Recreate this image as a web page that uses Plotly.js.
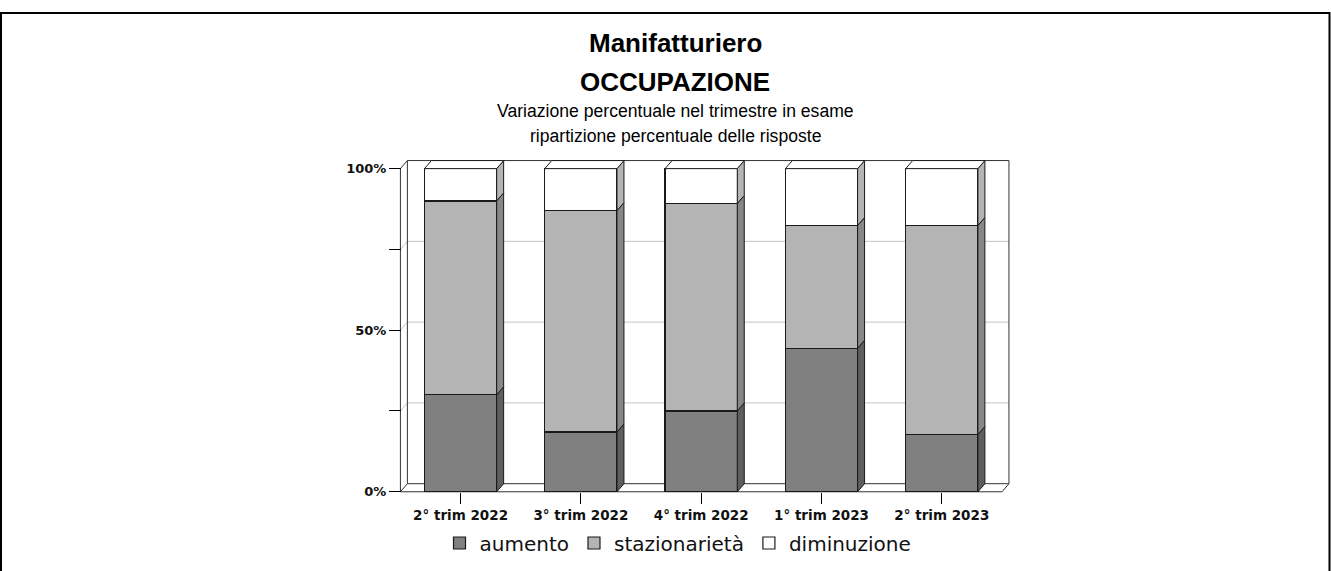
<!DOCTYPE html>
<html>
<head>
<meta charset="utf-8">
<script src="https://cdn.plot.ly/plotly-3.0.1.min.js"></script>
<style>
  html, body { margin: 0; padding: 0; background: #fff; }
  #chart { width: 1331px; height: 571px; }
</style>
</head>
<body>
<div id="chart"></div>
<script>
// ---- data ----
const categories = ['2° trim 2022', '3° trim 2022', '4° trim 2022', '1° trim 2023', '2° trim 2023'];
const aumento = [30, 18.5, 25, 44.4, 17.7];
const stazionarieta = [60, 68.5, 64.2, 38, 64.7];
const diminuzione = [10, 13.0, 10.8, 17.6, 17.6];
const seriesNames = ['aumento', 'stazionarietà', 'diminuzione'];
const yTickVals = [0, 25, 50, 75, 100];
const yTickText = ['0%', '', '50%', '', '100%'];
const titleLines = ['Manifatturiero', 'OCCUPAZIONE', 'Variazione percentuale nel trimestre in esame', 'ripartizione percentuale delle risposte'];

// ---- styling ----
const frontColors = ['#808080', '#b4b4b4', '#ffffff'];
const sideColors = ['#5e5e5e', '#878787', '#b4b4b4'];
const barWidth = 0.6;
const dx = 0.058;   // depth offset in category units
const dy = 2.5;     // depth offset in % units

// pixel layout of the plot area
const L = 398, T = 157, W = 616, H = 338;
const R = 1331 - L - W, B = 571 - T - H;
const px2x = px => (px - L) / W;
const py2y = py => (T + H - py) / H;

const xIdx = categories.map((_, i) => i);
const values = [aumento, stazionarieta, diminuzione];

const traces = values.map((vals, s) => ({
  type: 'bar',
  name: seriesNames[s],
  x: xIdx,
  y: vals,
  width: barWidth,
  marker: { color: frontColors[s], line: { color: '#1a1a1a', width: 1.2 } },
  hoverinfo: 'skip'
}));

const shapes = [];
const lineCol = '#333333';
// back wall gridlines
[25, 50, 75].forEach(v => {
  shapes.push({ type: 'path', layer: 'below', xref: 'x', yref: 'y',
    path: `M -0.5,${v} L ${-0.5 + dx},${v + dy} L ${4.5 + dx},${v + dy}`,
    line: { color: '#c4c4c4', width: 1 } });
});
// walls & floor outlines
const wallPaths = [
  `M -0.5,0 L -0.5,100 L ${-0.5 + dx},${100 + dy} L ${-0.5 + dx},${dy} Z`,
  `M ${-0.5 + dx},${100 + dy} L ${4.5 + dx},${100 + dy} L ${4.5 + dx},${dy}`,
  `M -0.5,0 L 4.5,0 L ${4.5 + dx},${dy} L ${-0.5 + dx},${dy}`
];
wallPaths.forEach(p => shapes.push({ type: 'path', layer: 'below', xref: 'x', yref: 'y',
  path: p, line: { color: lineCol, width: 1 } }));

// 3D side faces and top faces computed from data
xIdx.forEach(i => {
  const xl = i - barWidth / 2, xr = i + barWidth / 2;
  let base = 0;
  values.forEach((vals, s) => {
    const top = base + vals[i];
    shapes.push({ type: 'path', layer: 'above', xref: 'x', yref: 'y',
      path: `M ${xr},${base} L ${xr + dx},${base + dy} L ${xr + dx},${top + dy} L ${xr},${top} Z`,
      fillcolor: sideColors[s], line: { color: '#1a1a1a', width: 1 } });
    base = top;
  });
  shapes.push({ type: 'path', layer: 'above', xref: 'x', yref: 'y',
    path: `M ${xl},${base} L ${xl + dx},${base + dy} L ${xr + dx},${base + dy} L ${xr},${base} Z`,
    fillcolor: '#ffffff', line: { color: '#1a1a1a', width: 1 } });
});

// outer frame
shapes.push({ type: 'rect', xref: 'paper', yref: 'paper', layer: 'above',
  x0: px2x(1), x1: px2x(1329.5), y0: py2y(620), y1: py2y(13),
  line: { color: '#000', width: 2 }, fillcolor: 'rgba(0,0,0,0)' });

const titleCenter = px2x(675);
const annotations = [
  { text: '<b>' + titleLines[0] + '</b>', y: py2y(43), size: 26, family: 'Liberation Sans, Arial, sans-serif' },
  { text: '<b>' + titleLines[1] + '</b>', y: py2y(82), size: 26, family: 'Liberation Sans, Arial, sans-serif' },
  { text: titleLines[2], y: py2y(111), size: 17.6, family: 'Liberation Sans, Arial, sans-serif' },
  { text: titleLines[3], y: py2y(136), size: 17.6, family: 'Liberation Sans, Arial, sans-serif' }
].map(a => ({ text: a.text, xref: 'paper', yref: 'paper', x: titleCenter, y: a.y,
  xanchor: 'center', yanchor: 'middle', showarrow: false,
  font: { family: a.family, size: a.size, color: '#000' } }));

const layout = {
  width: 1331, height: 571,
  margin: { l: L, r: R, t: T, b: B, pad: 0, autoexpand: false },
  paper_bgcolor: '#ffffff', plot_bgcolor: 'rgba(0,0,0,0)',
  barmode: 'stack',
  showlegend: true,
  legend: {
    orientation: 'h', traceorder: 'normal',
    x: px2x(678), xanchor: 'center', y: py2y(543), yanchor: 'middle',
    font: { family: 'DejaVu Sans, sans-serif', size: 20, color: '#111' },
    itemwidth: 30,
    bgcolor: 'rgba(0,0,0,0)'
  },
  xaxis: {
    range: [-0.52, 4.6], tickvals: xIdx, ticktext: categories,
    anchor: 'free', position: py2y(492),
    showgrid: false, zeroline: false, showline: false,
    ticks: 'outside', ticklen: 11, tickcolor: '#000', tickwidth: 1,
    tickfont: { family: 'DejaVu Sans, sans-serif', size: 13.5, color: '#111', weight: 'bold' },
    fixedrange: true
  },
  yaxis: {
    range: [-1, 103.6], tickvals: yTickVals, ticktext: yTickText,
    anchor: 'free', position: px2x(401),
    showgrid: false, zeroline: false, showline: false,
    ticks: 'outside', ticklen: 12, tickcolor: '#000', tickwidth: 1,
    tickfont: { family: 'DejaVu Sans, sans-serif', size: 13, color: '#111', weight: 'bold' },
    fixedrange: true
  },
  shapes: shapes,
  annotations: annotations
};

Plotly.newPlot('chart', traces, layout, { displayModeBar: false, staticPlot: true });
</script>
</body>
</html>
